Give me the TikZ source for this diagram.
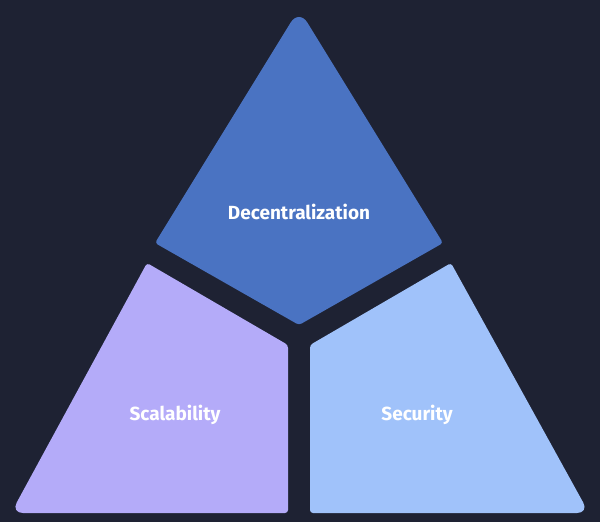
\documentclass[tikz,border=0pt]{standalone}
\usepackage{fontspec}
\setmainfont{Fira Sans}
\definecolor{bg}{HTML}{1E2233}
\definecolor{topc}{HTML}{4A73C2}
\definecolor{leftc}{HTML}{B4ABF9}
\definecolor{rightc}{HTML}{A0C2FA}
\tikzset{lbl/.style={text=white,font=\fontsize{19}{22}\selectfont\bfseries}}
\begin{document}
\begin{tikzpicture}[x=1pt,y=-1pt]
\fill[bg] (0,0) rectangle (600,522);
\fill[topc] (299,325) [rounded corners=3pt] -- (155,243) [rounded corners=16pt] -- (299,9) [rounded corners=3pt] -- (443,243) -- cycle;
\fill[leftc] (288,345) [rounded corners=3pt] -- (147,263) [rounded corners=12pt] -- (11,513) [rounded corners=3pt] -- (288,513) -- cycle;
\fill[rightc] (310,345) [rounded corners=3pt] -- (451,263) [rounded corners=12pt] -- (589,513) [rounded corners=3pt] -- (310,513) -- cycle;
\node[lbl] (d) at (299,212) {Decentralization};
\node[lbl] (sc) at (175,415) {Scalability};
\node[lbl] (se) at (417,415) {Security};
\end{tikzpicture}
\end{document}
